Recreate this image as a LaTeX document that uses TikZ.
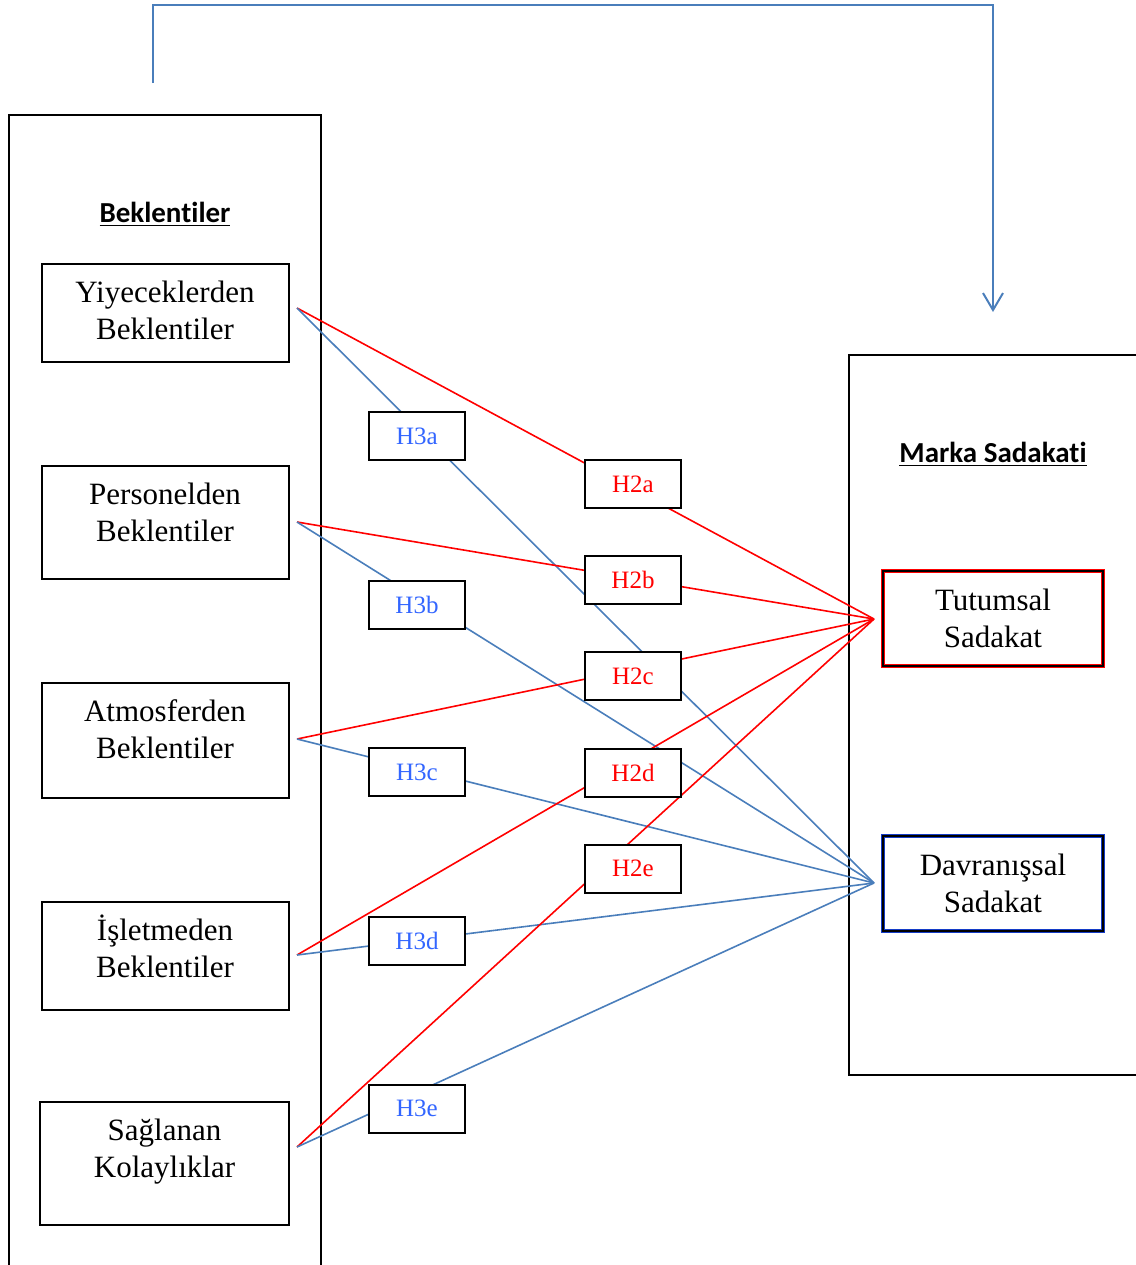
\documentclass[tikz,border=0pt]{standalone}
\usepackage{fontspec}
\setmainfont{Liberation Serif}
\newfontfamily\headfont[Ligatures=NoCommon]{Carlito}
\usetikzlibrary{arrows.meta}
\definecolor{linkblue}{RGB}{74,126,187}
\definecolor{hblue}{RGB}{51,102,255}
\definecolor{davblue}{RGB}{20,60,200}
\begin{document}
\begin{tikzpicture}[x=0.5pt, y=-0.5pt,
		frame/.style = {draw, line width=1pt},
		item/.style = {draw, line width=1pt, align=center, anchor=north, minimum width=123.5pt,
			inner ysep=0pt, text height=37.75pt, text depth=#1, font=\fontsize{15.5}{18.5}\selectfont},
		target/.style = {draw, line width=0.9pt, align=center, minimum width=110pt, minimum height=47.5pt,
			font=\fontsize{15.5}{18.5}\selectfont},
		hbox/.style = {draw, line width=1pt, fill=white, minimum width=48pt, minimum height=24pt,
			font=\fontsize{12.5}{14}\selectfont},
		title/.style = {font=\headfont\bfseries\fontsize{14.5}{17}\selectfont},
		redline/.style = {draw=red, line width=0.8pt},
		blueline/.style = {draw=linkblue, line width=0.8pt}]
	\useasboundingbox (0,0) rectangle (1136,1265);
	% the two big frames
	\draw[frame] (9,1265) |- (321,115) -- (321,1265);
	\draw[frame] (1136,355) -| (849,1075) -- (1136,1075);
	\node[title] (bek-title) at (165,214) {\underline{Beklentiler}};
	\node[title] (marka-title) at (993,454) {\underline{Marka Sadakati}};
	% expectations
	\node[item=11.25pt] (yiyecek) at (165,263) {Yiyeceklerden\\Beklentiler};
	\node[item=18.75pt] (personel) at (165,465) {Personelden\\Beklentiler};
	\node[item=19.75pt] (atmosfer) at (165,682) {Atmosferden\\Beklentiler};
	\node[item=16.25pt] (isletme) at (165,901) {İşletmeden\\Beklentiler};
	\node[item=23.75pt, minimum width=124.5pt] (kolaylik) at (164.5,1101) {Sağlanan\\Kolaylıklar};
	% loyalty
	\node[target, preaction={draw=red, line width=2pt}] (tutumsal) at (993,618.5) {Tutumsal\\Sadakat};
	\node[target, preaction={draw=davblue, line width=2pt}] (davranis) at (993,883.5) {Davranışsal\\Sadakat};
	\coordinate (tutumsal-in) at (874,619);
	\coordinate (davranis-in) at (874,883);
	% top arrow
	\coordinate (bek-top) at (153,83);
	\coordinate (marka-top) at (993,312);
	\draw[draw=linkblue, line width=1pt, -{Straight Barb[length=8.5pt, width=10pt]}]
		(bek-top) -- ++(0,-78) -| (marka-top);
	% hypothesis links
	\foreach \s/\y in {yiyecek/308, personel/522, atmosfer/739, isletme/955, kolaylik/1147}{
		\coordinate (\s-out) at (297,\y);
		\draw[redline] (\s-out) -- (tutumsal-in);
		\draw[blueline] (\s-out) -- (davranis-in);}
	\foreach \n/\y in {a/484, b/580, c/676, d/772.5, e/868.5}{
		\node[hbox, text=red] (h2\n) at (633,\y) {H2\n};}
	\foreach \n/\y in {a/436, b/604.5, c/772, d/940.5, e/1108.5}{
		\node[hbox, text=hblue] (h3\n) at (417,\y) {H3\n};}
\end{tikzpicture}
\end{document}
